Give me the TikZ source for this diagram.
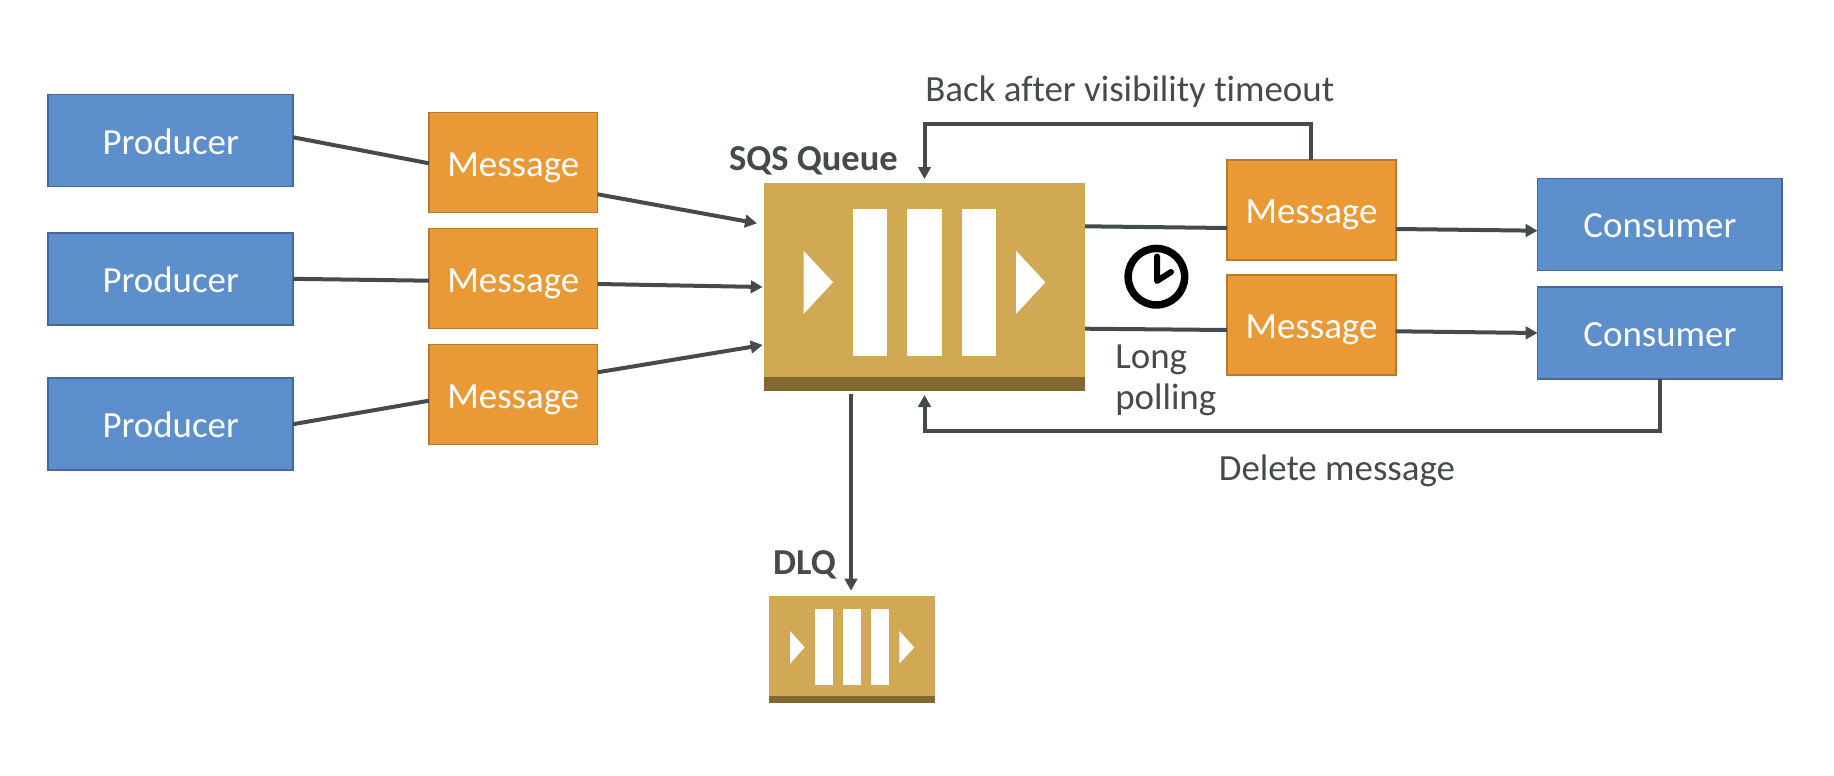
\documentclass[tikz,border=0pt]{standalone}
\usepackage{fontspec}
\setmainfont[Ligatures=NoCommon]{Carlito}
\usetikzlibrary{arrows.meta}
\definecolor{prodfill}{HTML}{5C8FCB}
\definecolor{prodline}{HTML}{45699A}
\definecolor{msgfill}{HTML}{E99A37}
\definecolor{msgline}{HTML}{B87A30}
\definecolor{qfill}{HTML}{D1A854}
\definecolor{qdark}{HTML}{836835}
\definecolor{ink}{HTML}{454A4C}
\tikzset{
  x=1pt,y=-1pt,
  boxbase/.style={draw,line width=1.6pt,inner sep=0pt,outer sep=0pt,text=white,font=\fontsize{36.9}{36.9}\selectfont,text height=27pt,text depth=0pt,align=center},
  actor/.style={boxbase,fill=prodfill,draw=prodline,minimum width=245pt,minimum height=92pt},
  consumerbox/.style={boxbase,fill=prodfill,draw=prodline,minimum width=244.6pt,minimum height=92pt},
  msg/.style={boxbase,fill=msgfill,draw=msgline,minimum width=168.7pt,minimum height=100pt},
  queuebody/.style={fill=qfill,inner sep=0pt,outer sep=0pt},
  lbl/.style={text=ink,inner sep=0pt,outer sep=0pt,anchor=base west,font=\fontsize{36.9}{36.9}\selectfont},
  lblb/.style={lbl,font=\fontsize{36.5}{36.5}\selectfont\bfseries},
  conn/.style={draw=ink,line width=4pt},
  arr/.style={conn,-{Triangle[length=12pt,width=12.5pt]}},
}
\begin{document}
\begin{tikzpicture}
\useasboundingbox (0,0) rectangle (1834,776);
% boxes
\node[actor] (p1) at (170.75,140.5) {Producer};
\node[actor] (p2) at (170.75,278.85) {Producer};
\node[actor] (p3) at (170.75,424.15) {Producer};
\node[msg] (m1) at (513.3,162.5) {Message};
\node[msg] (m2) at (513.3,278.5) {Message};
\node[msg] (m3) at (513.3,394.5) {Message};
\node[msg] (m4) at (1311.45,210.2) {Message};
\node[msg] (m5) at (1311.45,324.7) {Message};
\node[consumerbox] (c1) at (1659.9,224.3) {Consumer};
\node[consumerbox] (c2) at (1659.9,333) {Consumer};
% main queue
\node[queuebody,minimum width=321pt,minimum height=208pt] (q) at (924.5,287.3) {};
\fill[qdark] (764,377.3) rectangle (1085,391.3);
\fill[white] (852.5,209) rectangle (887.3,355.7);
\fill[white] (907.2,209) rectangle (941.7,355.7);
\fill[white] (961.6,209) rectangle (996,355.7);
\fill[white] (803.5,250.7) -- (833,282.3) -- (803.5,314) -- cycle;
\fill[white] (1016,250.7) -- (1045.4,282.3) -- (1016,314) -- cycle;
% DLQ
\node[queuebody,minimum width=165.7pt,minimum height=107.3pt] (d) at (852.15,649.65) {};
\fill[qdark] (769.3,696) rectangle (935,703.3);
\fill[white] (815.3,609.3) rectangle (833,685.3);
\fill[white] (843.3,609.3) rectangle (861.3,685.3);
\fill[white] (871,609.3) rectangle (889,685.3);
\fill[white] (790,631) -- (804.7,647.3) -- (790,663.7) -- cycle;
\fill[white] (899.3,631) -- (914.3,647.3) -- (899.3,663.7) -- cycle;
% clock
\node[circle,draw=black,line width=7.5pt,minimum size=56.5pt,inner sep=0pt,outer sep=0pt] (clk) at (1156.4,276.7) {};
\draw[black,line width=6pt,line cap=round,line join=round] (1157,256.5) -- (1157,281) -- (1171,272);
% free ends
\coordinate (t1) at (757,223.3);
\coordinate (t2) at (762.7,287);
\coordinate (t3) at (762.7,345);
\coordinate (dlqout) at (851,394);
\coordinate (dlqin) at (851,590.7);
% connectors
\draw[conn] ([yshift=3.2pt]p1.east) -- ([yshift=-0.8pt]m1.west);
\draw[conn] (p2.east) -- ([yshift=-2.2pt]m2.west);
\draw[conn] (p3.east) -- ([yshift=-6.2pt]m3.west);
\draw[arr] ([yshift=-31.8pt]m1.east) -- (t1);
\draw[arr] ([yshift=-5.5pt]m2.east) -- (t2);
\draw[arr] ([yshift=22.2pt]m3.east) -- (t3);
\draw[conn] ([yshift=61pt]q.east) -- ([yshift=-17.8pt]m4.west);
\draw[conn] ([yshift=-41.4pt]q.east) -- ([yshift=-5.3pt]m5.west);
\draw[arr] ([yshift=-18.8pt]m4.east) -- ([yshift=-6.4pt]c1.west);
\draw[arr] ([yshift=-6.6pt]m5.east) -- (c2.west);
\draw[arr] (m4.north) -- ++(0,-36) -| ([yshift=4.3pt]q.north);
\draw[arr] (c2.south) -- ++(0,51.6) -| ([yshift=-3.7pt]q.south);
\draw[arr] (dlqout) -- (dlqin);
% labels
\node[lblb] (lq) at (729,170.5) {SQS Queue};
\node[lblb] (ld) at (773,574) {DLQ};
\node[lbl] (lb) at (925.4,102) {Back after visibility timeout};
\node[lbl] (ll1) at (1115.3,368) {Long};
\node[lbl] (ll2) at (1115.3,409) {polling};
\node[lbl] (lm) at (1218.8,480.5) {Delete message};
\end{tikzpicture}
\end{document}
